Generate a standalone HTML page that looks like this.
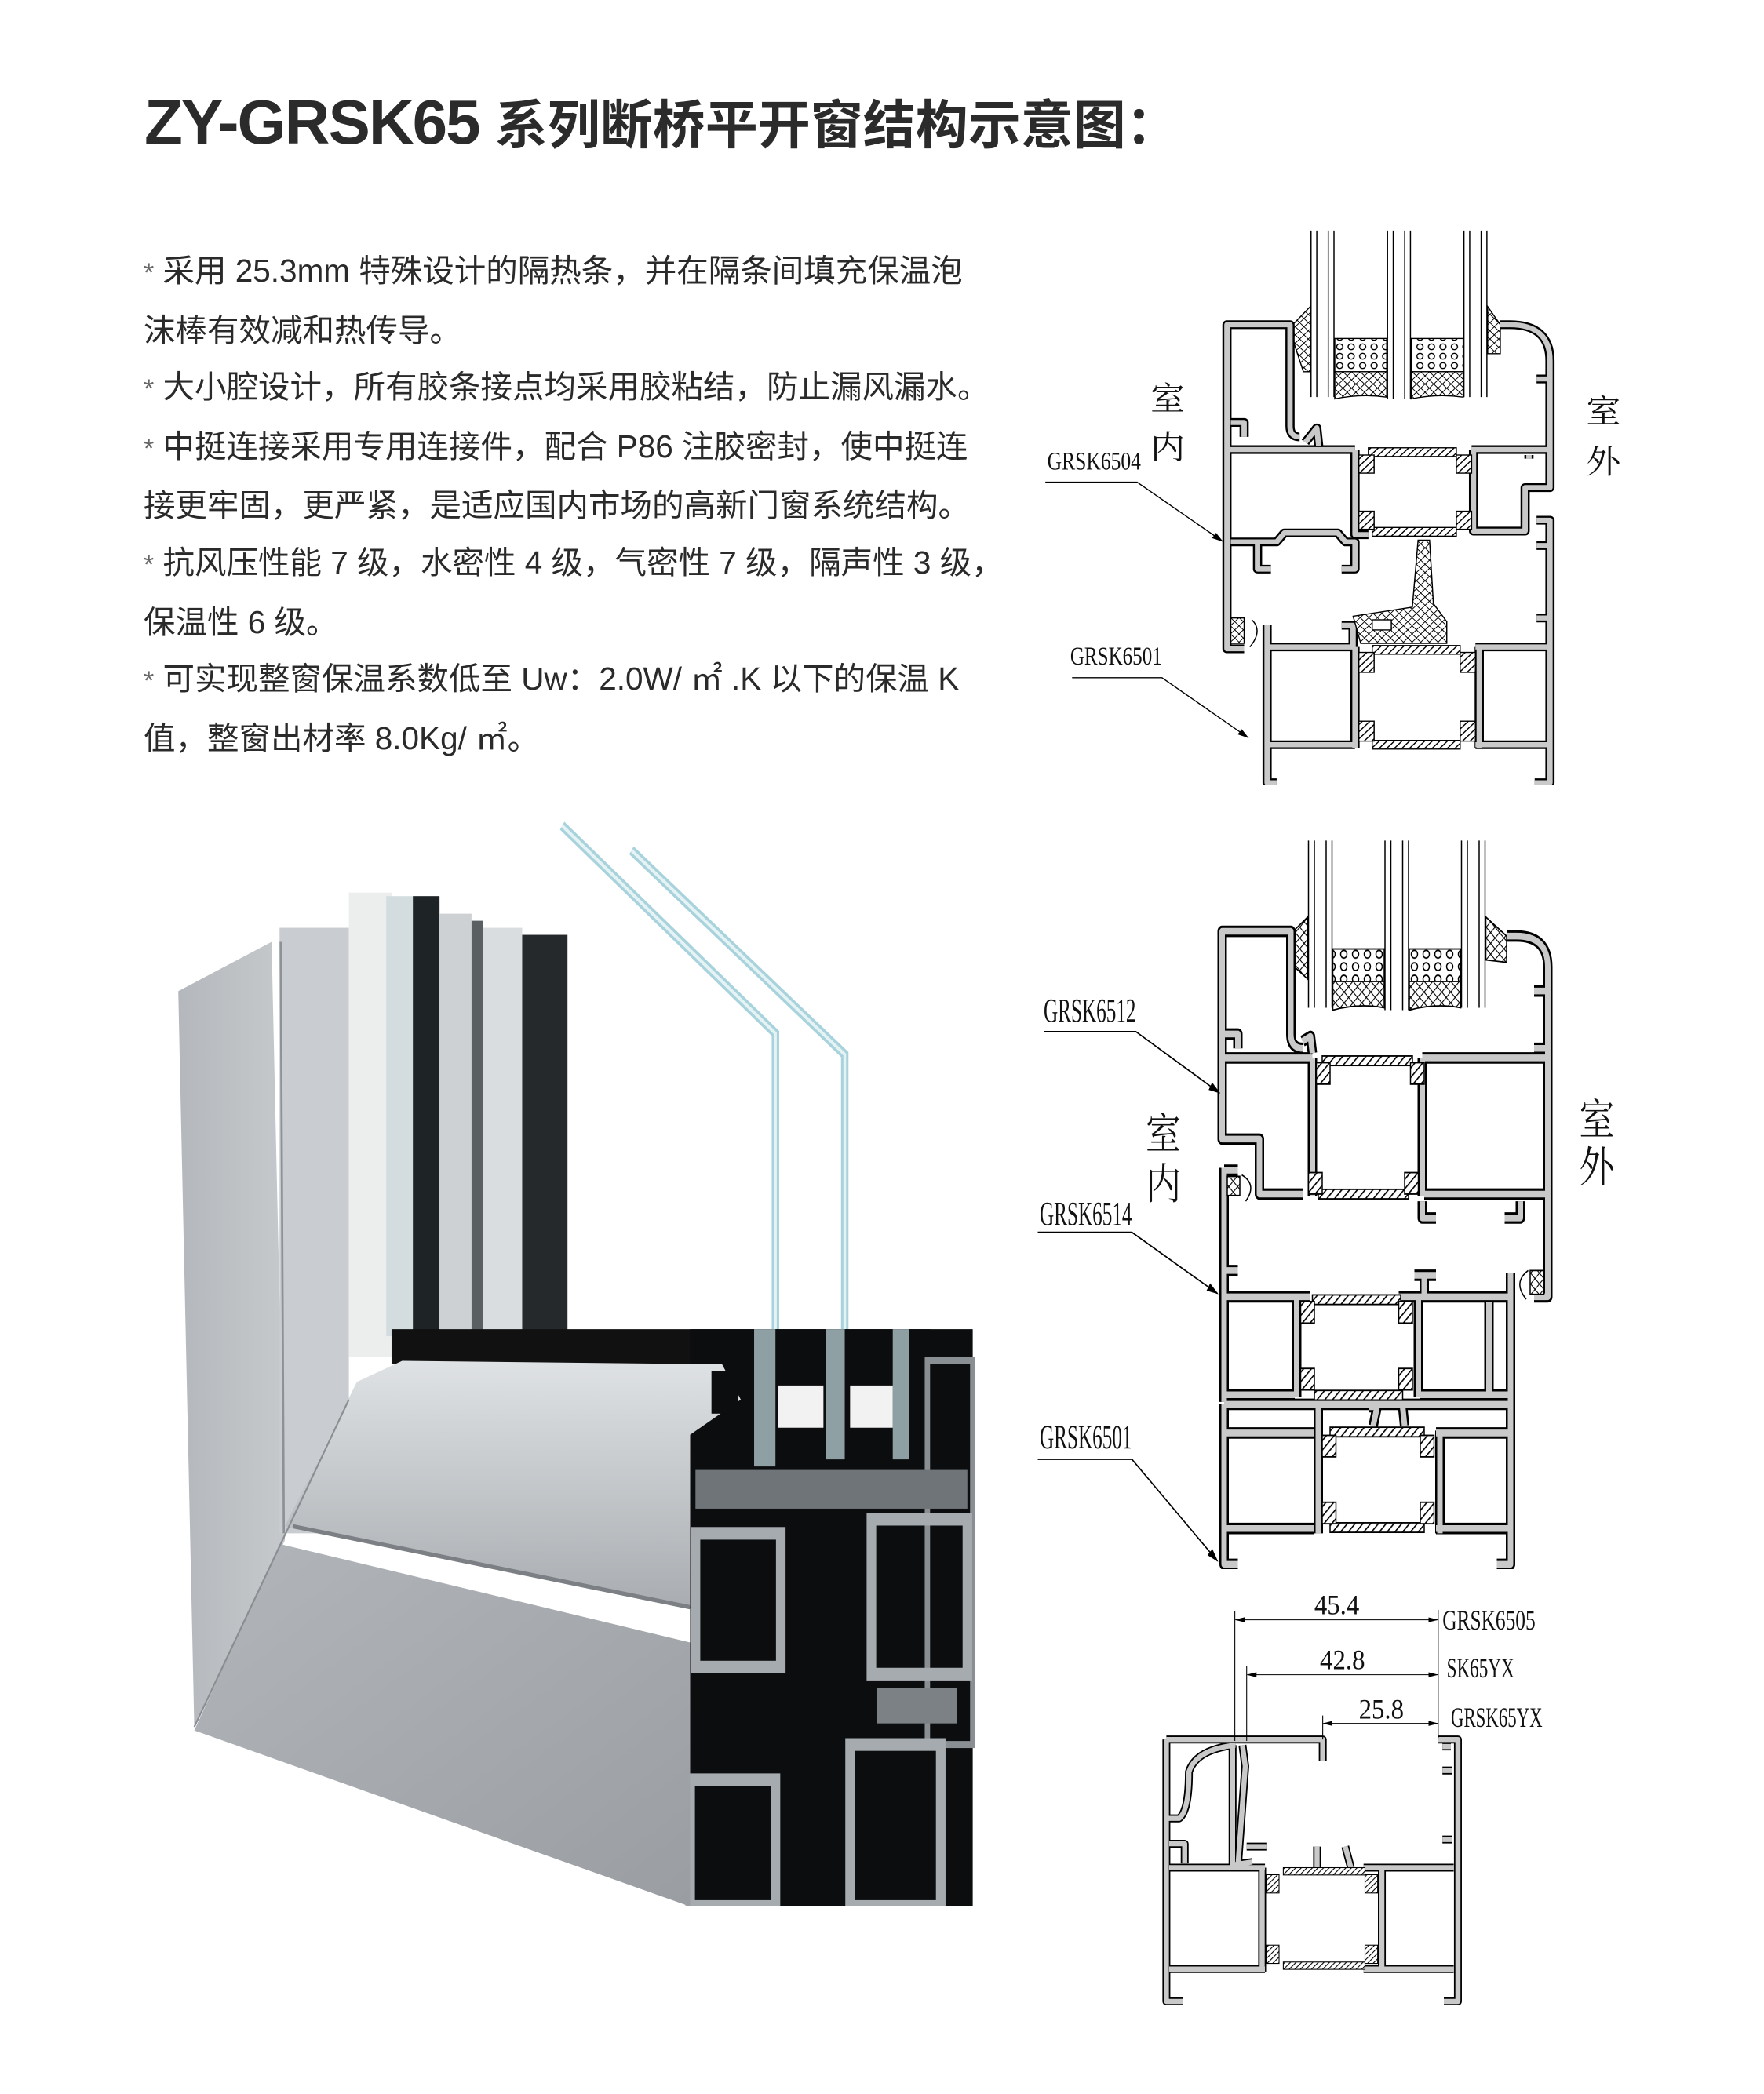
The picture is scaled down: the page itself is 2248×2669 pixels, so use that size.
<!DOCTYPE html>
<html><head><meta charset="utf-8"><style>
html,body{margin:0;padding:0;background:#fff;}
body{width:2248px;height:2669px;position:relative;overflow:hidden;}
.title{position:absolute;left:184px;top:106px;white-space:nowrap;color:#2b2b2b;}
.title .en{font-family:"Liberation Sans",sans-serif;font-weight:bold;font-size:80px;letter-spacing:-2px;}
.title .zh{font-family:"Liberation Sans","Noto Sans CJK SC",sans-serif;font-weight:bold;font-size:67px;}
.txt{position:absolute;left:183px;top:309px;font-family:"Liberation Sans","Noto Sans CJK SC",sans-serif;font-size:40.5px;line-height:72.6px;color:#2a2a2a;white-space:nowrap;}
.st{color:#666;font-size:34px;}
svg{position:absolute;}
</style></head><body>
<div class="title"><span class="en">ZY-GRSK65 </span><span class="zh">系列断桥平开窗结构示意图：</span></div>
<div class="txt">
<span class="st">*</span> 采用 25.3mm 特殊设计的隔热条，并在隔条间填充保温泡<br>
沫棒有效减和热传导。<br>
<span class="st">*</span> 大小腔设计，所有胶条接点均采用胶粘结，防止漏风漏水。<br>
<span class="st">*</span> 中挺连接采用专用连接件，配合 P86 注胶密封，使中挺连<br>
接更牢固，更严紧，是适应国内市场的高新门窗系统结构。<br>
<span class="st">*</span> 抗风压性能 7 级，水密性 4 级，气密性 7 级，隔声性 3 级，<br>
保温性 6 级。<br>
<span class="st">*</span> 可实现整窗保温系数低至 Uw：2.0W/ ㎡ .K 以下的保温 K<br>
值，整窗出材率 8.0Kg/ ㎡。
</div>

<svg width="0" height="0" style="position:absolute">
<defs>
<pattern id="hat" width="14" height="14" patternUnits="userSpaceOnUse" patternTransform="rotate(45)"><rect width="14" height="14" fill="#fff"/><line x1="0" y1="0" x2="0" y2="14" stroke="#000" stroke-width="6"/></pattern>
<pattern id="xh" width="16" height="16" patternUnits="userSpaceOnUse" patternTransform="rotate(45)"><rect width="16" height="16" fill="#fff"/><path d="M0,0V16M0,0H16" stroke="#000" stroke-width="4"/></pattern>
<pattern id="dot" width="30" height="26" patternUnits="userSpaceOnUse"><rect width="30" height="26" fill="#fff"/><circle cx="15" cy="13" r="8" fill="none" stroke="#000" stroke-width="3"/></pattern>
<marker id="ar" markerWidth="10" markerHeight="10" refX="9" refY="5" orient="auto" markerUnits="strokeWidth"><path d="M0,2 L10,5 L0,8z" fill="#000"/></marker>
<marker id="ar2" markerWidth="12" markerHeight="8" refX="11" refY="4" orient="auto-start-reverse" markerUnits="strokeWidth"><path d="M0,1 L12,4 L0,7z" fill="#000"/></marker>
</defs></svg>

<!-- PHOTO -->
<svg style="left:200px;top:1030px" width="1060" height="1400" viewBox="0 0 1560 1560" preserveAspectRatio="none">
<defs>
<linearGradient id="g1" x1="0" y1="0" x2="1" y2="0"><stop offset="0" stop-color="#b4b8bc"/><stop offset="1" stop-color="#c6c9cc"/></linearGradient>
<linearGradient id="g2" x1="0" y1="0" x2="0" y2="1"><stop offset="0" stop-color="#dfe2e4"/><stop offset="1" stop-color="#a9adb1"/></linearGradient>
<linearGradient id="g3" x1="0" y1="0" x2="1" y2="1"><stop offset="0" stop-color="#b2b6ba"/><stop offset="1" stop-color="#9a9ea2"/></linearGradient>
</defs>
<path d="M760,25 L1160,320 L1160,950 M890,60 L1290,350 L1290,920" fill="none" stroke="#a9d3dc" stroke-width="14"/>
<path d="M760,25 L1160,320 L1160,950 M890,60 L1290,350 L1290,920" fill="none" stroke="#e6f3f5" stroke-width="5"/>
<polygon points="40,260 215,190 240,1040 70,1305" fill="url(#g1)"/>
<rect x="230" y="170" width="130" height="860" fill="#c9ccd0"/>
<line x1="232" y1="190" x2="238" y2="1030" stroke="#8d9296" stroke-width="4"/>
<rect x="360" y="120" width="80" height="660" fill="#eceeee"/>
<rect x="430" y="125" width="50" height="625" fill="#d3dde0"/>
<rect x="480" y="125" width="50" height="625" fill="#1e2325"/>
<rect x="530" y="150" width="60" height="595" fill="#cdd1d3"/>
<rect x="590" y="160" width="22" height="585" fill="#5a5f62"/>
<rect x="612" y="170" width="73" height="575" fill="#dadddf"/>
<rect x="685" y="180" width="85" height="565" fill="#25292b"/>
<polygon points="440,740 1450,740 1450,790 440,790" fill="#111"/>
<rect x="1000" y="740" width="530" height="820" fill="#0c0d0e"/>
<rect x="1120" y="740" width="40" height="195" fill="#8fa0a4"/>
<rect x="1255" y="740" width="35" height="185" fill="#8fa0a4"/>
<rect x="1380" y="740" width="30" height="185" fill="#8fa0a4"/>
<rect x="1165" y="820" width="85" height="60" fill="#f2f2f2"/>
<rect x="1300" y="820" width="80" height="60" fill="#f2f2f2"/>
<rect x="1445" y="785" width="85" height="545" fill="none" stroke="#8a8f93" stroke-width="10"/>
<rect x="1010" y="940" width="510" height="55" fill="#6f7478"/>
<rect x="1010" y="1030" width="160" height="190" fill="none" stroke="#a6abaf" stroke-width="18"/>
<rect x="1340" y="1010" width="180" height="220" fill="none" stroke="#a6abaf" stroke-width="18"/>
<rect x="1350" y="1250" width="150" height="50" fill="#7c8185"/>
<rect x="1300" y="1330" width="170" height="230" fill="none" stroke="#a6abaf" stroke-width="18"/>
<rect x="1000" y="1380" width="160" height="180" fill="none" stroke="#a6abaf" stroke-width="18"/>
<polygon points="375,815 460,785 1060,790 1095,840 1000,890 1000,1135 240,1020" fill="url(#g2)"/>
<polygon points="230,1045 1000,1185 1000,1560 70,1310" fill="url(#g3)"/>
<line x1="255" y1="1020" x2="1000" y2="1135" stroke="#7c8084" stroke-width="6"/>
<line x1="360" y1="840" x2="70" y2="1305" stroke="#8a8e92" stroke-width="3"/>
<rect x="1040" y="800" width="50" height="60" fill="#0c0d0e"/>
</svg>

<!-- DIAGRAM 1 -->
<svg style="left:1320px;top:280px" width="760" height="720" viewBox="0 0 1560 1560" preserveAspectRatio="none">
<path d="M720,30V490 M735,30V490 M765,30V490 M780,30V490 M920,30V495 M935,30V495 M965,30V495 M980,30V495 M1120,30V490 M1135,30V490 M1165,30V490 M1180,30V490" stroke="#000" stroke-width="3"/>
<rect x="782" y="328" width="136" height="92" fill="url(#dot)" stroke="#000" stroke-width="3"/>
<rect x="982" y="328" width="136" height="92" fill="url(#dot)" stroke="#000" stroke-width="3"/>
<path d="M782,420H918V490Q850,480 782,495Z" fill="url(#xh)" stroke="#000" stroke-width="3"/>
<path d="M982,420H1118V490Q1050,480 982,495Z" fill="url(#xh)" stroke="#000" stroke-width="3"/>
<path d="M672,290 L718,240 L718,420 L700,420 L672,330Z" fill="url(#xh)" stroke="#000" stroke-width="3"/>
<path d="M1182,240 L1215,290 L1215,370 L1182,370Z" fill="url(#xh)" stroke="#000" stroke-width="3"/>
<g id="d1" fill="none" stroke-linejoin="round">
<path d="M690,600 Q665,600 665,570 L665,290 L500,290 L500,1185 L545,1185"/>
<path d="M500,635 L835,635 M1140,635 L1345,635"/>
<path d="M1215,290 L1240,290 Q1345,290 1345,390 L1345,740 L1280,740 L1280,860 L1145,860 L1145,635"/>
<path d="M835,635 L835,870 L870,870"/>
<path d="M510,890 L630,890 L650,865 L790,865 L810,890 L835,890 L835,965 L800,965 M580,895 L580,965 L615,965"/>
<path d="M510,560 L545,560 L545,600 M705,615 L735,575 L740,625 M1310,440 L1345,440 M1290,650 L1290,660"/>
<path d="M1310,830 L1345,830 L1345,1555 L1305,1555 M605,1120 L605,1555 L630,1555 M605,1180 L830,1180 M1150,1180 L1345,1180 M605,1450 L835,1450 M1150,1450 L1345,1450 M835,1180 L835,1460 M1160,1180 L1160,1460 M1310,900 L1340,900 M1310,1100 L1340,1100 M800,1120 L830,1120 L830,1180"/>
</g>
<use href="#d1" stroke="#000" stroke-width="24"/>
<use href="#d1" stroke="#c9c9c9" stroke-width="14"/>
<g fill="url(#hat)" stroke="#000" stroke-width="3">
<rect x="870" y="630" width="230" height="24"/><rect x="880" y="850" width="220" height="24"/>
<rect x="880" y="1176" width="230" height="24"/><rect x="880" y="1438" width="230" height="24"/>
<rect x="845" y="650" width="40" height="50"/><rect x="1100" y="650" width="40" height="50"/>
<rect x="845" y="805" width="40" height="50"/><rect x="1100" y="805" width="40" height="50"/>
<rect x="845" y="1195" width="40" height="55"/><rect x="1110" y="1195" width="40" height="55"/>
<rect x="845" y="1385" width="40" height="55"/><rect x="1110" y="1385" width="40" height="55"/>
</g>
<path d="M1000,885 L1030,885 L1040,1060 L1075,1110 L1075,1170 L850,1170 L830,1095 L985,1070Z" fill="url(#xh)" stroke="#000" stroke-width="3"/>
<rect x="880" y="1105" width="50" height="28" fill="#fff" stroke="#000" stroke-width="3"/>
<path d="M510,1100 L545,1100 L545,1170 L510,1170Z" fill="url(#xh)" stroke="#000" stroke-width="3"/>
<path d="M565,1105 Q595,1135 560,1180" fill="none" stroke="#000" stroke-width="3"/>
<g font-family="'Liberation Serif','Noto Serif CJK SC',serif" fill="#111">
<text x="345" y="525" font-size="90" text-anchor="middle">室</text>
<text x="345" y="660" font-size="90" text-anchor="middle">内</text>
<text x="1485" y="560" font-size="90" text-anchor="middle">室</text>
<text x="1485" y="700" font-size="90" text-anchor="middle">外</text>
<text x="30" y="690" font-size="72" textLength="245" lengthAdjust="spacingAndGlyphs">GRSK6504</text>
<text x="90" y="1228" font-size="72" textLength="240" lengthAdjust="spacingAndGlyphs">GRSK6501</text>
</g>
<path d="M25,725 L265,725 L488,888" fill="none" stroke="#000" stroke-width="3" marker-end="url(#ar)"/>
<path d="M95,1265 L330,1265 L555,1430" fill="none" stroke="#000" stroke-width="3" marker-end="url(#ar)"/>
</svg>

<!-- DIAGRAM 2 -->
<svg style="left:1300px;top:1050px" width="780" height="950" viewBox="0 0 1560 1560" preserveAspectRatio="none">
<path d="M735,35V385 M750,35V385 M780,35V385 M795,35V385 M930,35V390 M945,35V390 M975,35V390 M990,35V390 M1125,35V385 M1140,35V385 M1170,35V385 M1185,35V385" stroke="#000" stroke-width="3"/>
<rect x="797" y="262" width="131" height="68" fill="url(#dot)" stroke="#000" stroke-width="3"/>
<rect x="992" y="262" width="131" height="68" fill="url(#dot)" stroke="#000" stroke-width="3"/>
<path d="M797,330H928V385Q862,375 797,390Z" fill="url(#xh)" stroke="#000" stroke-width="3"/>
<path d="M992,330H1123V385Q1057,375 992,390Z" fill="url(#xh)" stroke="#000" stroke-width="3"/>
<path d="M690,230 L733,195 L733,325 L700,300Z" fill="url(#xh)" stroke="#000" stroke-width="3"/>
<path d="M1187,195 L1240,235 L1240,290 L1187,285Z" fill="url(#xh)" stroke="#000" stroke-width="3"/>
<g id="d2" fill="none" stroke-linejoin="round">
<path d="M720,470 Q690,470 690,440 L690,225 L515,225 L515,660 L610,660 L610,775 L720,775 M520,490 L745,490 M1025,490 L1345,490 M745,490 L745,780 M1025,490 L1025,780 M1030,775 L1345,775 M1240,235 L1265,235 Q1345,235 1345,300 L1345,990 L1310,990 M520,440 L555,440 L555,470 M720,455 L740,445 L745,480 M1310,350 L1345,350 M1310,470 L1345,470 M1025,790 L1025,825 L1060,825 M1235,825 L1275,825 L1275,790 M520,720 L520,1210 M520,990 L740,990 M965,990 L1250,990 M520,1195 L700,1195 M1020,1195 L1250,1195 M705,990 L705,1200 M1015,990 L1015,1200 M1250,940 L1250,1550 L1215,1550 M1195,1000 L1195,1195 M1005,945 L1060,945 M1030,945 L1030,985 M520,935 L555,935 M520,1215 L520,1550 L555,1550 M520,1275 L750,1275 M1060,1275 L1250,1275 M520,1475 L750,1475 M1060,1475 L1250,1475 M760,1220 L760,1485 M1070,1270 L1070,1485 M520,1215 L1250,1215 M890,1220 L910,1220 L900,1260 M975,1220 L980,1260 M520,725 L555,725"/>
</g>
<use href="#d2" stroke="#000" stroke-width="24"/>
<use href="#d2" stroke="#c9c9c9" stroke-width="14"/>
<g fill="url(#hat)" stroke="#000" stroke-width="3">
<rect x="770" y="486" width="230" height="20"/><rect x="760" y="765" width="230" height="20"/>
<rect x="745" y="986" width="225" height="20"/><rect x="750" y="1186" width="225" height="20"/>
<rect x="790" y="1263" width="240" height="20"/><rect x="790" y="1463" width="240" height="20"/>
<rect x="755" y="500" width="35" height="45"/><rect x="995" y="500" width="35" height="45"/>
<rect x="735" y="730" width="35" height="45"/><rect x="980" y="730" width="35" height="45"/>
<rect x="715" y="1000" width="35" height="45"/><rect x="965" y="1000" width="35" height="45"/>
<rect x="715" y="1140" width="35" height="45"/><rect x="965" y="1140" width="35" height="45"/>
<rect x="770" y="1280" width="35" height="45"/><rect x="1020" y="1280" width="35" height="45"/>
<rect x="770" y="1420" width="35" height="45"/><rect x="1020" y="1420" width="35" height="45"/>
</g>
<path d="M528,738 L560,738 L560,778 L528,778Z" fill="url(#xh)" stroke="#000" stroke-width="3"/>
<path d="M565,735 Q605,755 575,790" fill="none" stroke="#000" stroke-width="3"/>
<path d="M1300,935 L1335,935 L1335,985 L1300,985Z" fill="url(#xh)" stroke="#000" stroke-width="3"/>
<path d="M1295,935 Q1255,960 1290,995" fill="none" stroke="#000" stroke-width="3"/>
<g font-family="'Liberation Serif','Noto Serif CJK SC',serif" fill="#111">
<text x="365" y="680" font-size="90" text-anchor="middle">室</text>
<text x="365" y="785" font-size="90" text-anchor="middle">内</text>
<text x="1470" y="650" font-size="90" text-anchor="middle">室</text>
<text x="1470" y="750" font-size="90" text-anchor="middle">外</text>
<text x="60" y="415" font-size="72" textLength="235" lengthAdjust="spacingAndGlyphs">GRSK6512</text>
<text x="50" y="840" font-size="72" textLength="235" lengthAdjust="spacingAndGlyphs">GRSK6514</text>
<text x="50" y="1307" font-size="72" textLength="235" lengthAdjust="spacingAndGlyphs">GRSK6501</text>
</g>
<g fill="none" stroke="#000" stroke-width="3" marker-end="url(#ar)">
<path d="M60,435 L295,435 L508,563"/>
<path d="M45,855 L285,855 L503,983"/>
<path d="M45,1330 L285,1330 L503,1543"/>
</g>
</svg>

<!-- DIAGRAM 3 -->
<svg style="left:1420px;top:2000px" width="560" height="560" viewBox="0 0 1560 1560">
<g id="d3" fill="none" stroke-linejoin="round">
<path d="M185,605 L185,1535 L245,1535 M185,605 L740,605 L740,680 M1150,605 L1220,605 L1220,1535 L1170,1535 M190,885 L230,885 Q265,860 265,720 Q290,640 430,625 M195,975 L250,975 L250,1045 M1165,630 L1195,630 M1165,715 L1200,715 M1165,960 L1200,960 M420,625 L420,1050 L490,1040 M455,625 L465,700 L440,1040 M195,1060 L535,1060 M885,1060 L1205,1060 M195,1420 L535,1420 M885,1420 L1205,1420 M525,1060 L525,1430 M950,1060 L950,1430 M470,985 L540,985 M720,985 L720,1060 M820,985 L840,1060"/>
</g>
<use href="#d3" stroke="#000" stroke-width="28"/>
<use href="#d3" stroke="#c9c9c9" stroke-width="18"/>
<g fill="url(#hat)" stroke="#000" stroke-width="3">
<rect x="600" y="1060" width="290" height="26"/><rect x="600" y="1395" width="290" height="26"/>
<rect x="540" y="1085" width="45" height="65"/><rect x="890" y="1085" width="45" height="65"/>
<rect x="540" y="1335" width="45" height="65"/><rect x="890" y="1335" width="45" height="65"/>
</g>
<g stroke="#000" stroke-width="3" fill="none">
<path d="M428,150V610 M470,345V610 M740,520V605 M1150,145V600"/>
<path d="M430,180H1148" marker-start="url(#ar2)" marker-end="url(#ar2)"/>
<path d="M472,375H1148" marker-start="url(#ar2)" marker-end="url(#ar2)"/>
<path d="M742,548H1148" marker-start="url(#ar2)" marker-end="url(#ar2)"/>
</g>
<g font-family="'Liberation Serif',serif" fill="#111" font-size="100">
<text x="790" y="160" text-anchor="middle" textLength="160" lengthAdjust="spacingAndGlyphs">45.4</text>
<text x="810" y="355" text-anchor="middle" textLength="160" lengthAdjust="spacingAndGlyphs">42.8</text>
<text x="948" y="530" text-anchor="middle" textLength="160" lengthAdjust="spacingAndGlyphs">25.8</text>
<text x="1165" y="215" textLength="330" lengthAdjust="spacingAndGlyphs">GRSK6505</text>
<text x="1180" y="385" textLength="240" lengthAdjust="spacingAndGlyphs">SK65YX</text>
<text x="1195" y="560" textLength="325" lengthAdjust="spacingAndGlyphs">GRSK65YX</text>
</g>
</svg>
</body></html>
